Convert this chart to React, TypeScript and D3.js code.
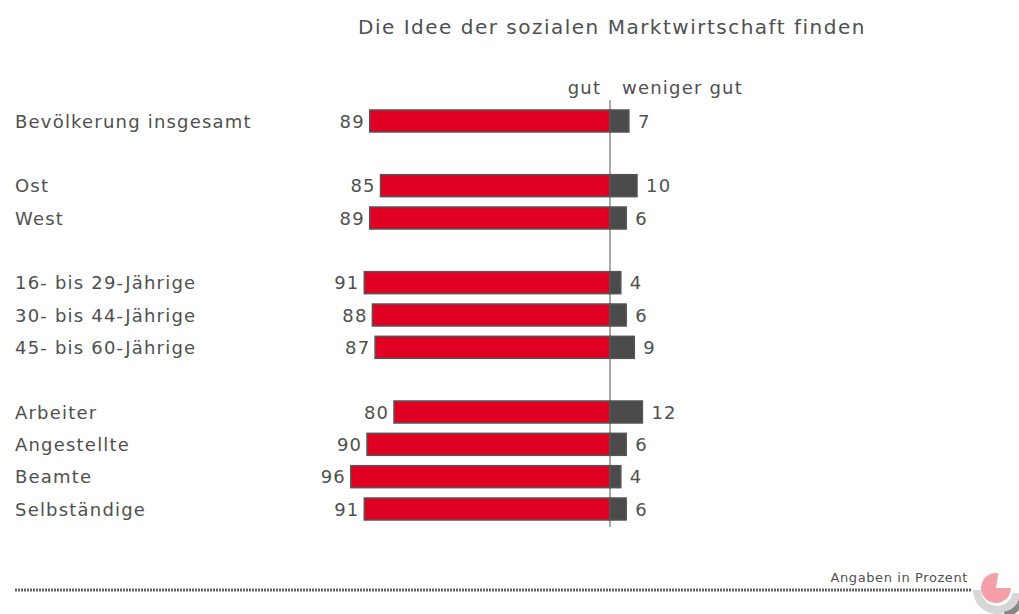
import React from "react";
import * as d3 from "d3";

const categories = [
  "Bevölkerung insgesamt",
  "Ost",
  "West",
  "16- bis 29-Jährige",
  "30- bis 44-Jährige",
  "45- bis 60-Jährige",
  "Arbeiter",
  "Angestellte",
  "Beamte",
  "Selbständige",
];
const rowSlots = [0, 2, 3, 5, 6, 7, 9, 10, 11, 12];
const gutValues = [89, 85, 89, 91, 88, 87, 80, 90, 96, 91];
const wenigerValues = [7, 10, 6, 4, 6, 9, 12, 6, 4, 6];

const title = "Die Idee der sozialen Marktwirtschaft finden";
const headerLeft = "gut";
const headerRight = "weniger gut";
const footnote = "Angaben in Prozent";

const W = 1019;
const H = 614;
const FONT = "Verdana, 'DejaVu Sans', sans-serif";
const LS = 1.2;

export default function App() {
  const cx = 610;
  const x = d3.scaleLinear().domain([0, 100]).range([0, 270]);
  const y = d3.scaleLinear().domain([0, 12]).range([121, 509]);
  const bh = 22;
  const textColor = "#505050";

  const arc = d3.arc();
  return (
    <svg width={W} height={H} style={{ position: "absolute", left: 0, top: 0, background: "#fff" }}>
      <text x={612} y={34} textAnchor="middle" fontFamily={FONT} fontSize={20} letterSpacing={1.5} fill={textColor}>
        {title}
      </text>
      <text x={600 + LS} y={94} textAnchor="end" fontFamily={FONT} fontSize={18} letterSpacing={LS} fill={textColor}>
        {headerLeft}
      </text>
      <text x={622} y={94} textAnchor="start" fontFamily={FONT} fontSize={18} letterSpacing={LS} fill={textColor}>
        {headerRight}
      </text>
      {categories.map((c, i) => {
        const yc = y(rowSlots[i]);
        const lw = x(gutValues[i]);
        const rw = x(wenigerValues[i]);
        return (
          <g key={c}>
            <text x={15} y={yc + 6.5} fontFamily={FONT} fontSize={18} letterSpacing={LS} fill={textColor}>
              {c}
            </text>
            <rect x={cx - lw} y={yc - bh / 2} width={lw} height={bh} fill="#e00022" stroke="#555" strokeWidth={1.5} />
            <rect x={cx} y={yc - bh / 2} width={rw} height={bh} fill="#4a4a4a" stroke="#555" strokeWidth={1.5} />
            <text x={cx - lw - 6 + LS} y={yc + 6.5} textAnchor="end" fontFamily={FONT} fontSize={18} letterSpacing={LS} fill={textColor}>
              {gutValues[i]}
            </text>
            <text x={cx + rw + 9} y={yc + 6.5} textAnchor="start" fontFamily={FONT} fontSize={18} letterSpacing={LS} fill={textColor}>
              {wenigerValues[i]}
            </text>
          </g>
        );
      })}
      <line x1={cx} x2={cx} y1={100} y2={527} stroke="#555" strokeWidth={1} />
      <line x1={15} x2={972} y1={590} y2={590} stroke="#666" strokeWidth={3} strokeDasharray="2,1" />
      <text x={968} y={582} textAnchor="end" fontFamily={FONT} fontSize={13} letterSpacing={0.6} fill={textColor}>
        {footnote}
      </text>
      <g transform="translate(997,590)">
        <path
          d={arc({ innerRadius: 16, outerRadius: 24, startAngle: Math.PI * 0.55, endAngle: Math.PI * 1.5 }) || ""}
          fill="#d6d6d6"
        />
        <path
          transform="translate(4,3)"
          d={arc({ innerRadius: 19, outerRadius: 25, startAngle: Math.PI * 0.6, endAngle: Math.PI * 0.95 }) || ""}
          fill="#888"
        />
        <path
          transform="translate(-1,-2)"
          d={arc({ innerRadius: 0, outerRadius: 15, startAngle: Math.PI * 0.5, endAngle: Math.PI * 2.05 }) || ""}
          fill="#f3a0a8"
        />
      </g>
    </svg>
  );
}
